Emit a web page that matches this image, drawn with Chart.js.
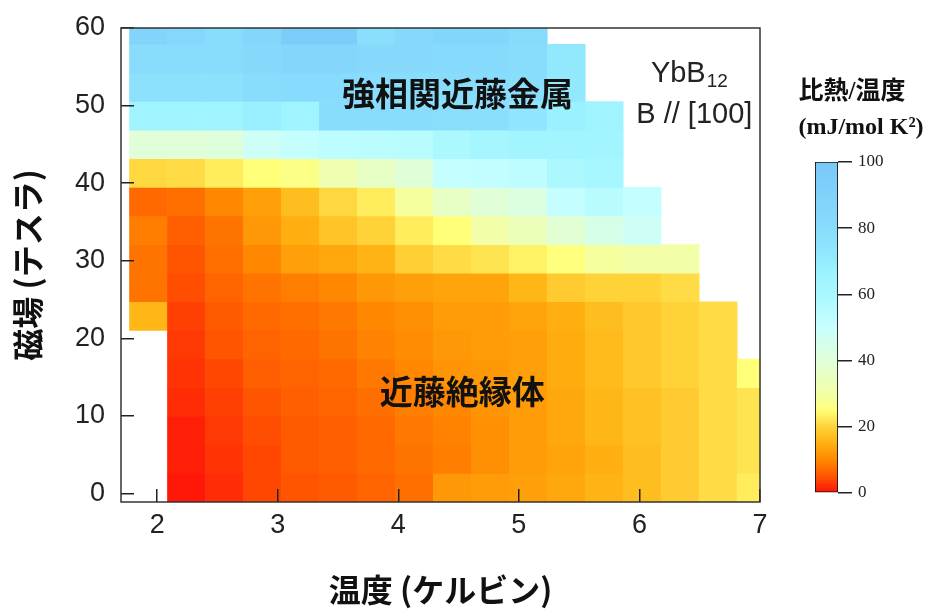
<!DOCTYPE html>
<html><head><meta charset="utf-8">
<script src="https://cdn.jsdelivr.net/npm/chart.js@4.4.1/dist/chart.umd.min.js"></script>
<style>
html,body{margin:0;padding:0;background:#fff;}
#wrap{position:relative;width:935px;height:609px;overflow:hidden;}
#main{position:absolute;left:0;top:0;}
#cbar{position:absolute;left:780px;top:0;}
</style></head><body>
<div id="wrap"><canvas id="main" width="935" height="609"></canvas><canvas id="cbar" width="155" height="609"></canvas></div>
<script>
// Temperatures (K) of the cell centres and magnetic fields (T) of the row centres
const temps = [1.928, 2.243, 2.558, 2.873, 3.188, 3.503, 3.818, 4.133, 4.448, 4.763, 5.078, 5.393, 5.708, 6.023, 6.338, 6.653, 6.968];
const fields = [0.74, 4.43, 8.12, 11.81, 15.49, 19.18, 22.87, 26.56, 30.24, 33.93, 37.62, 41.31, 44.99, 48.68, 52.37, 56.06, 59.74];
const xTicks = [2, 3, 4, 5, 6, 7];
const yTicks = [0, 10, 20, 30, 40, 50, 60];
const cbTicks = [0, 20, 40, 60, 80, 100];

// C/T (mJ/mol K^2), one array per field row, bottom (row0) to top (row16)
const row0  = [null, 0.5, 2, 4, 5, 5.5, 6.5, 7.5, 12, 12.5, 13, 14, 15.5, 17, 19, 21, 23];
const row1  = [null, 1, 2.5, 4, 5.5, 6, 7, 8, 9, 11, 12.5, 13.5, 15, 17, 19, 21, 22];
const row2  = [null, 1, 3, 4.5, 5.5, 6, 7, 8.5, 9.5, 11, 12.5, 14, 16, 17.5, 19, 21, 22];
const row3  = [null, 2, 3.5, 5, 6, 6.5, 7.5, 9, 10, 11.5, 12.5, 14, 16, 17.5, 19, 21, 22];
const row4  = [null, 2.5, 4, 6, 6.5, 7, 8.5, 10, 11.5, 12, 13, 14.5, 16.5, 18.5, 20, 21, 25];
const row5  = [null, 3, 5, 6.5, 7, 8, 9.5, 10.5, 12, 12.5, 13, 14.5, 16.5, 18.5, 20, 21, null];
const row6  = [16, 3.5, 5.5, 7, 7.5, 8.5, 10, 11, 12.5, 12.5, 13.5, 15, 17, 18.5, 20, 21, null];
const row7  = [8, 4.5, 6.5, 8, 9, 10, 12, 13, 13.5, 13.5, 16, 19, 20, 20, 21, null, null];
const row8  = [8, 5, 7.5, 10, 13, 14, 15.5, 19.5, 21, 22, 23.5, 25.5, 29, 30, 30, null, null];
const row9  = [9, 6, 8, 12, 15, 18, 20, 23, 25, 30, 34, 39, 44, 48, null, null, null];
const row10 = [7, 7.5, 10, 13, 17, 20.5, 23, 29, 36, 40, 42, 51, 55, 51, null, null, null];
const row11 = [20.5, 21, 23, 25, 26.5, 32, 36, 40, 51, 52, 53, 59, 61, null, null, null, null];
const row12 = [40, 40, 41, 48, 51, 53, 54, 55, 59, 62, 64, 64, 64, null, null, null, null];
const row13 = [65, 65, 65, 68, 65, 80, 80, 80, 79, 78, 74, 67, 65, null, null, null, null];
const row14 = [77, 77, 77, 80, 81, 81, 80, 80, 80, 80, 79, 72, null, null, null, null, null];
const row15 = [80, 80, 80, 83, 85, 85, 83, 83, 82, 82, 80, 72, null, null, null, null, null];
const row16 = [88, 84, 80, 85, 95, 95, 78, 83, 86, 86, 81, null, null, null, null, null, null];
const ctRows = [row0, row1, row2, row3, row4, row5, row6, row7, row8, row9, row10, row11, row12, row13, row14, row15, row16];

// colour scale
const cmapVals = [0, 5, 10, 15, 20, 25, 30, 40, 50, 60, 65, 70, 80, 90, 100];
const cmapCols = ['#ff1008', '#ff5500', '#ff8800', '#ffb010', '#ffd238', '#ffff78', '#f2ffa8', '#e0ffd8', '#c8ffff', '#a8f8ff', '#a0f4ff', '#94ecff', '#88dcfc', '#80d2fa', '#78c8f8'];

// texts
const xTitle = '温度 (ケルビン)';
const yTitle = '磁場 (テスラ)';
const metalLabel = '強相関近藤金属';
const insulLabel = '近藤絶縁体';
const sampleMain = 'YbB';
const sampleSub = '12';
const dirLabel = 'B // [100]';
const cbTitle1 = '比熱/温度';
const cbTitle2 = '(mJ/mol K²)';

// label anchor positions (data coordinates)
const metalPos = [4.49, 51.5];
const insulPos = [4.53, 13.1];
const samplePos = [6.41, 53.0];
const dirPos = [6.455, 47.75];

function hexRgb(h) { return [parseInt(h.slice(1,3),16), parseInt(h.slice(3,5),16), parseInt(h.slice(5,7),16)]; }
function cmap(v) {
  if (v <= cmapVals[0]) return cmapCols[0];
  for (let i = 1; i < cmapVals.length; i++) {
    if (v <= cmapVals[i]) {
      const t = (v - cmapVals[i-1]) / (cmapVals[i] - cmapVals[i-1]);
      const a = hexRgb(cmapCols[i-1]), b = hexRgb(cmapCols[i]);
      return 'rgb(' + a.map((c, k) => Math.round(c + (b[k]-c)*t)).join(',') + ')';
    }
  }
  return cmapCols[cmapCols.length-1];
}

// row edges from midpoints between field centres
const fEdges = [fields[0] - (fields[1]-fields[0])/2];
for (let i = 1; i < fields.length; i++) fEdges.push((fields[i-1] + fields[i]) / 2);
fEdges.push(fields[fields.length-1] + (fields[fields.length-1] - fields[fields.length-2]) / 2);

const cells = [], cellColors = [];
ctRows.forEach((row, i) => {
  row.forEach((v, j) => {
    if (v === null) return;
    cells.push({x: temps[j], y: [fEdges[i], fEdges[i+1]]});
    cellColors.push(cmap(v));
  });
});

const tickFont = {family: '"Liberation Sans", Arial, sans-serif', size: 27};
const ink = '#222';

const overlay = {
  id: 'overlay',
  afterDatasetsDraw(chart) {
    const {ctx, scales: {x, y}} = chart;
    ctx.save();
    ctx.fillStyle = '#111';
    ctx.textAlign = 'center';
    ctx.textBaseline = 'middle';
    ctx.font = 'bold 33px "Noto Sans CJK JP"';
    ctx.fillText(metalLabel, x.getPixelForValue(metalPos[0]), y.getPixelForValue(metalPos[1]));
    ctx.fillText(insulLabel, x.getPixelForValue(insulPos[0]), y.getPixelForValue(insulPos[1]));
    ctx.fillStyle = ink;
    ctx.textBaseline = 'alphabetic';
    ctx.font = '29px "Liberation Sans", Arial, sans-serif';
    const w1 = ctx.measureText(sampleMain).width;
    ctx.font = '19px "Liberation Sans", Arial, sans-serif';
    const w2 = ctx.measureText(sampleSub).width;
    const sx = x.getPixelForValue(samplePos[0]) - (w1 + w2) / 2;
    const sy = y.getPixelForValue(samplePos[1]);
    ctx.textAlign = 'left';
    ctx.font = '29px "Liberation Sans", Arial, sans-serif';
    ctx.fillText(sampleMain, sx, sy);
    ctx.font = '19px "Liberation Sans", Arial, sans-serif';
    ctx.fillText(sampleSub, sx + w1 + 1, sy + 5);
    ctx.textAlign = 'center';
    ctx.font = '29px "Liberation Sans", Arial, sans-serif';
    ctx.fillText(dirLabel, x.getPixelForValue(dirPos[0]), y.getPixelForValue(dirPos[1]));
    ctx.restore();
  },
  afterDraw(chart) {
    const {ctx, chartArea: a} = chart;
    ctx.save();
    ctx.strokeStyle = '#333';
    ctx.lineWidth = 1.5;
    ctx.strokeRect(a.left, a.top, a.right - a.left, a.bottom - a.top);
    ctx.restore();
  }
};

new Chart(document.getElementById('main'), {
  type: 'bar',
  data: {
    datasets: [{
      data: cells,
      backgroundColor: cellColors,
      borderWidth: 0,
      barPercentage: 1,
      categoryPercentage: 1,
      grouped: false
    }]
  },
  options: {
    responsive: false,
    animation: false,
    devicePixelRatio: 1,
    layout: {padding: {left: 0, top: 28, right: 175, bottom: 0}},
    plugins: {legend: {display: false}, tooltip: {enabled: false}},
    scales: {
      x: {
        type: 'linear', min: 1.7, max: 7.0, offset: false,
        afterBuildTicks: s => { s.ticks = xTicks.map(v => ({value: v})); },
        afterFit: s => { s.height = 107; s.paddingLeft = 0; s.paddingRight = 0; },
        grid: {offset: false, drawOnChartArea: false, drawTicks: true, tickLength: -13, color: ink, lineWidth: 1.5, z: 1},
        border: {display: false},
        ticks: {font: tickFont, color: ink, padding: 20, maxRotation: 0, autoSkip: false},
        title: {display: true, text: xTitle, color: '#111', font: {family: '"Noto Sans CJK JP"', size: 32, weight: 'bold'}, padding: {top: 0, bottom: 0}}
      },
      y: {
        type: 'linear', min: -1.1, max: 60,
        afterBuildTicks: s => { s.ticks = yTicks.map(v => ({value: v})); },
        afterFit: s => { s.width = 121; s.paddingTop = 0; s.paddingBottom = 0; },
        grid: {drawOnChartArea: false, drawTicks: true, tickLength: -13, color: ink, lineWidth: 1.5, z: 1},
        border: {display: false},
        ticks: {font: tickFont, color: ink, padding: 29},
        title: {display: true, text: yTitle, color: '#111', font: {family: '"Noto Sans CJK JP"', size: 32, weight: 'bold'}, padding: {top: 9, bottom: 0}}
      }
    }
  },
  plugins: [overlay]
});

const cbarTitle = {
  id: 'cbarTitle',
  afterDraw(chart) {
    const {ctx} = chart;
    ctx.save();
    ctx.fillStyle = '#111';
    ctx.textAlign = 'center';
    ctx.textBaseline = 'middle';
    ctx.font = 'bold 25px "Liberation Serif", "Noto Sans CJK JP"';
    ctx.fillText(cbTitle1, 72, 93);
    ctx.font = 'bold 24px "Liberation Serif", serif';
    ctx.fillText(cbTitle2, 81, 128);
    ctx.restore();
  }
};

new Chart(document.getElementById('cbar'), {
  type: 'bar',
  data: {
    labels: [''],
    datasets: [{
      data: [[cbTicks[0], cbTicks[cbTicks.length-1]]],
      backgroundColor: (c) => {
        const chart = c.chart;
        if (!chart.chartArea) return cmapCols[0];
        const ys = chart.scales.y;
        const g = chart.ctx.createLinearGradient(0, ys.getPixelForValue(0), 0, ys.getPixelForValue(100));
        cmapVals.forEach((v, i) => g.addColorStop(v / 100, cmapCols[i]));
        return g;
      },
      borderColor: '#111',
      borderWidth: 1.2,
      borderSkipped: false,
      barPercentage: 1,
      categoryPercentage: 1
    }]
  },
  options: {
    responsive: false,
    animation: false,
    devicePixelRatio: 1,
    layout: {padding: {left: 35, top: 162, right: 0, bottom: 116}},
    plugins: {legend: {display: false}, tooltip: {enabled: false}},
    scales: {
      x: {display: false},
      y: {
        position: 'right', min: 0, max: 100,
        afterBuildTicks: s => { s.ticks = cbTicks.map(v => ({value: v})); },
        afterFit: s => { s.width = 97; s.paddingTop = 0; s.paddingBottom = 0; },
        grid: {drawOnChartArea: false, drawTicks: true, tickLength: 14, color: ink, lineWidth: 1.5},
        border: {display: false},
        ticks: {font: {family: '"Liberation Serif", serif', size: 17}, color: ink, padding: 6}
      }
    }
  },
  plugins: [cbarTitle]
});
</script>
</body></html>
